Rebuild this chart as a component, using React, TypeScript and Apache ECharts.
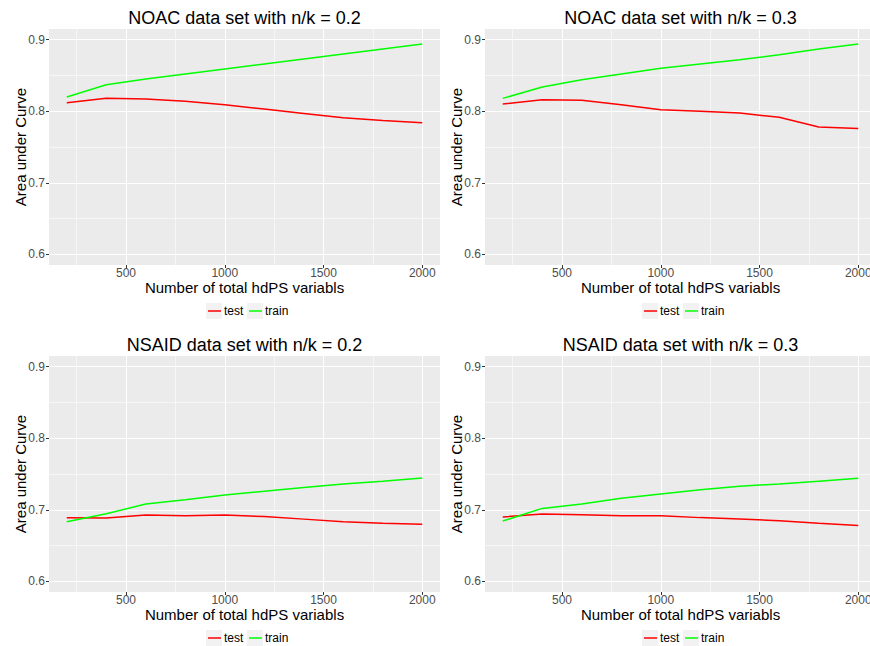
import React, { useEffect, useRef } from 'react';
import * as echarts from 'echarts';

const xValues = [200, 400, 600, 800, 1000, 1200, 1400, 1600, 1800, 2000];

const noac02Test = [0.812, 0.818, 0.817, 0.814, 0.809, 0.803, 0.797, 0.791, 0.787, 0.784];
const noac02Train = [0.820, 0.837, 0.845, 0.852, 0.859, 0.866, 0.873, 0.880, 0.887, 0.894];

const noac03Test = [0.810, 0.816, 0.8155, 0.809, 0.802, 0.800, 0.7975, 0.7915, 0.778, 0.7757];
const noac03Train = [0.818, 0.834, 0.844, 0.852, 0.860, 0.866, 0.872, 0.879, 0.887, 0.894];

const nsaid02Test = [0.6888, 0.6885, 0.6925, 0.6916, 0.6925, 0.6906, 0.6869, 0.6832, 0.6813, 0.6799];
const nsaid02Train = [0.6832, 0.6944, 0.708, 0.714, 0.7205, 0.726, 0.731, 0.736, 0.740, 0.7445];

const nsaid03Test = [0.690, 0.694, 0.693, 0.6916, 0.6916, 0.689, 0.687, 0.6846, 0.681, 0.678];
const nsaid03Train = [0.6842, 0.7019, 0.708, 0.716, 0.722, 0.728, 0.733, 0.736, 0.740, 0.744];

const panelTitles = [
  'NOAC data set with n/k = 0.2',
  'NOAC data set with n/k = 0.3',
  'NSAID data set with n/k = 0.2',
  'NSAID data set with n/k = 0.3',
];
const panelTest = [noac02Test, noac03Test, nsaid02Test, nsaid03Test];
const panelTrain = [noac02Train, noac03Train, nsaid02Train, nsaid03Train];

const seriesNames = ['test', 'train'];
const xTicks = [500, 1000, 1500, 2000];
const xMinorTicks = [250, 750, 1250, 1750];
const yTicks = [0.6, 0.7, 0.8, 0.9];
const yMinorTicks = [0.65, 0.75, 0.85];

const xAxisTitle = 'Number of total hdPS variabls';
const yAxisTitle = 'Area under Curve';

const FONT = '"Liberation Sans", Arial, Helvetica, sans-serif';
const COLORS = ['#FF0000', '#00FF00'];

export default function App() {
  const ref = useRef<HTMLDivElement>(null);

  useEffect(() => {
    if (!ref.current) return;
    const chart = echarts.init(ref.current, undefined, { renderer: 'svg' });

    const colOff = [0, 436];
    const rowOff = [0, 327];
    const grids: any[] = [];
    const xAxes: any[] = [];
    const yAxes: any[] = [];
    const series: any[] = [];
    const legends: any[] = [];
    const graphics: any[] = [];

    for (let p = 0; p < 4; p++) {
      const cx = colOff[p % 2];
      const ry = rowOff[Math.floor(p / 2)];
      grids.push({
        left: 49 + cx,
        top: 29 + ry,
        width: 391,
        height: 236,
        show: true,
        backgroundColor: '#EBEBEB',
        borderWidth: 0,
      });
      xAxes.push({
        type: 'value',
        gridIndex: p,
        min: 110,
        max: 2090,
        position: 'bottom',
        axisLine: { show: false },
        axisTick: { show: true, length: 3, customValues: xTicks, lineStyle: { color: '#333333', width: 1 } },
        axisLabel: {
          customValues: xTicks,
          color: '#4D4D4D',
          fontSize: 12,
          fontFamily: FONT,
          margin: 2,
          formatter: (v: number) => String(v),
        },
        splitLine: { show: true, lineStyle: { color: '#FFFFFF', width: 1.1 } },
        name: xAxisTitle,
        nameLocation: 'middle',
        nameGap: 15,
        nameMoveOverlap: false,
        nameTextStyle: { color: '#000000', fontSize: 15, fontFamily: FONT, verticalAlign: 'top' },
      });
      xAxes.push({
        type: 'value',
        gridIndex: p,
        min: 110,
        max: 2090,
        position: 'top',
        axisLine: { show: false },
        axisTick: { show: false, customValues: xMinorTicks },
        axisLabel: { show: false, customValues: xMinorTicks },
        splitLine: { show: true, lineStyle: { color: '#FFFFFF', width: 0.55 } },
      });
      yAxes.push({
        type: 'value',
        gridIndex: p,
        min: 0.585,
        max: 0.915,
        position: 'left',
        axisLine: { show: false },
        axisTick: { show: true, length: 3, customValues: yTicks, lineStyle: { color: '#333333', width: 1 } },
        axisLabel: {
          customValues: yTicks,
          color: '#4D4D4D',
          fontSize: 12,
          fontFamily: FONT,
          margin: 4,
          formatter: (v: number) => v.toFixed(1),
        },
        splitLine: { show: true, lineStyle: { color: '#FFFFFF', width: 1.1 } },
        name: yAxisTitle,
        nameLocation: 'middle',
        nameGap: 21,
        nameMoveOverlap: false,
        nameRotate: 90,
        nameTextStyle: { color: '#000000', fontSize: 15, fontFamily: FONT },
      });
      yAxes.push({
        type: 'value',
        gridIndex: p,
        min: 0.585,
        max: 0.915,
        position: 'right',
        axisLine: { show: false },
        axisTick: { show: false, customValues: yMinorTicks },
        axisLabel: { show: false, customValues: yMinorTicks },
        splitLine: { show: true, lineStyle: { color: '#FFFFFF', width: 0.55 } },
      });

      const dataSets = [panelTest[p], panelTrain[p]];
      for (let s = 0; s < 2; s++) {
        series.push({
          type: 'line',
          name: seriesNames[s],
          xAxisIndex: 2 * p,
          yAxisIndex: 2 * p,
          data: xValues.map((x, i) => [x, dataSets[s][i]]),
          showSymbol: false,
          symbol: 'none',
          lineStyle: { color: COLORS[s], width: 1.5 },
          itemStyle: { color: COLORS[s] },
          z: 3,
        });
      }

      const keyLeft = [206, 247];
      for (let s = 0; s < 2; s++) {
        graphics.push({
          type: 'rect',
          left: keyLeft[s] + cx,
          top: 303 + ry,
          shape: { width: 16, height: 16 },
          style: { fill: '#F2F2F2' },
          z: 0,
        });
        legends.push({
          data: [{ name: seriesNames[s], icon: 'rect' }],
          left: keyLeft[s] + 2 + cx,
          top: 305 + ry,
          padding: 0,
          itemWidth: 13,
          itemHeight: 1.5,
          selectedMode: false,
          textStyle: { color: '#000000', fontSize: 12, fontFamily: FONT, padding: [0, 0, 0, -2] },
          z: 10,
        });
      }

      graphics.push({
        type: 'text',
        x: 49 + cx + 391 / 2,
        y: 18 + ry,
        style: {
          text: panelTitles[p],
          fill: '#000000',
          font: `18px ${FONT}`,
          align: 'center',
          verticalAlign: 'middle',
        },
        z: 5,
      });
    }

    chart.setOption({
      animation: false,
      backgroundColor: '#FFFFFF',
      textStyle: { fontFamily: FONT },
      grid: grids,
      xAxis: xAxes,
      yAxis: yAxes,
      legend: legends,
      series,
      graphic: graphics,
    });

    return () => {
      chart.dispose();
    };
  }, []);

  return (
    <div
      style={{
        position: 'fixed',
        left: 0,
        top: 0,
        width: 870,
        height: 646,
        overflow: 'hidden',
        background: '#FFFFFF',
      }}
    >
      <div ref={ref} style={{ width: 880, height: 646 }} />
    </div>
  );
}
